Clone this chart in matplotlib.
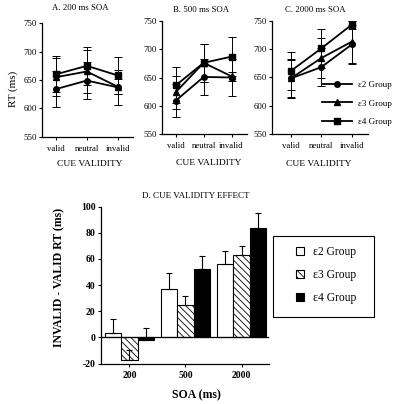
import matplotlib
matplotlib.use("Agg")
import matplotlib.pyplot as plt
import numpy as np
from matplotlib.patches import Patch, Rectangle
from matplotlib.lines import Line2D

plt.rcParams['font.family'] = ['Liberation Serif', 'DejaVu Serif']
plt.rcParams['axes.unicode_minus'] = False
plt.rcParams['hatch.linewidth'] = 0.6

conditions = ['valid', 'neutral', 'invalid']
groups = ['ε2 Group', 'ε3 Group', 'ε4 Group']
markers = ['o', '^', 's']

# Panel A: 200 ms SOA
rt_200 = {'ε2 Group': [634, 649, 637], 'ε3 Group': [655, 665, 638], 'ε4 Group': [660, 675, 658]}
se_200 = {'ε2 Group': [32, 33, 31], 'ε3 Group': [33, 38, 13], 'ε4 Group': [32, 34, 32]}
# Panel B: 500 ms SOA
rt_500 = {'ε2 Group': [609, 651, 650], 'ε3 Group': [624, 676, 652], 'ε4 Group': [636, 676, 687]}
se_500 = {'ε2 Group': [29, 32, 32], 'ε3 Group': [29, 34, 8], 'ε4 Group': [32, 34, 34]}
# Panel C: 2000 ms SOA
rt_2000 = {'ε2 Group': [648, 668, 708], 'ε3 Group': [648, 684, 713], 'ε4 Group': [661, 701, 743]}
se_2000 = {'ε2 Group': [33, 34, 35], 'ε3 Group': [35, 35, 37], 'ε4 Group': [33, 34, 7]}

# Panel D: cue validity effect
soa_labels = ['200', '500', '2000']
effect = {'ε2 Group': [3, 37, 56], 'ε3 Group': [-17, 25, 63], 'ε4 Group': [-2, 52, 84]}
effect_se = {'ε2 Group': [11, 12, 10], 'ε3 Group': [7, 7, 7], 'ε4 Group': [9, 10, 11]}

W, H = 400, 404
fig = plt.figure(figsize=(W / 100, H / 100), dpi=100)

def rect(l, r, t, b):
    return [l / W, 1 - b / H, (r - l) / W, (b - t) / H]

panels = [
    (rect(41.7, 133.3, 23.3, 136.7), (-0.46, 2.5), rt_200, se_200, 'A. 200 ms SOA', (80, 7.5), (89.5, 164)),
    (rect(162.3, 246.7, 21, 134), (-0.48, 2.54), rt_500, se_500, 'B. 500 ms SOA', (201, 10), (209, 163)),
    (rect(271.7, 368.3, 20.7, 134), (-0.62, 2.54), rt_2000, se_2000, 'C. 2000 ms SOA', (315, 9.5), (319, 164.3)),
]

x = np.arange(len(conditions))
axes_top = []
for r, xl, data, se, title, tpos, lpos in panels:
    ax = fig.add_axes(r)
    for g, m in zip(groups, markers):
        ax.errorbar(x, data[g], yerr=se[g], color='black', lw=1.3, marker=m,
                    markersize=4, elinewidth=0.7, capsize=2.8, capthick=0.7, label=g)
    ax.set_xlim(*xl)
    ax.set_ylim(550, 750)
    ax.set_yticks([550, 600, 650, 700, 750])
    ax.set_xticks(x)
    ax.set_xticklabels(conditions)
    for s in ['top', 'right']:
        ax.spines[s].set_visible(False)
    for s in ['left', 'bottom']:
        ax.spines[s].set_linewidth(0.9)
    ax.tick_params(axis='both', labelsize=6.3, length=2.2, width=0.8, pad=1.5)
    ax.tick_params(axis='x', pad=3.5)
    fig.text(tpos[0] / W, 1 - tpos[1] / H, title, ha='center', va='center', fontsize=6.3)
    fig.text(lpos[0] / W, 1 - lpos[1] / H, 'CUE VALIDITY', ha='center', va='center', fontsize=6.8)
    axes_top.append(ax)

fig.text(13.3 / W, 1 - 89.3 / H, 'RT (ms)', rotation=90, ha='center', va='center', fontsize=8)

# legend for line panels (inside panel C)
handles = [Line2D([0], [0], color='black', lw=1.3, marker=m, markersize=4) for m in markers]
fig.legend(handles, groups, loc='center left', bbox_to_anchor=(322 / W, 1 - 103.5 / H),
           frameon=False, fontsize=6.5, handlelength=3.3, handletextpad=0.7,
           labelspacing=1.15, borderaxespad=0, borderpad=0)

# Panel D
axd = fig.add_axes(rect(100.7, 269, 206.7, 363.5))
xd = np.arange(len(soa_labels))
bw = 0.293
faces = ['white', 'white', 'black']
hatches = [None, '\\' * 5, None]
for i, g in enumerate(groups):
    pos = xd + (i - 1) * bw
    vals = effect[g]
    axd.bar(pos, vals, width=bw, color=faces[i], edgecolor='black', linewidth=0.8,
            hatch=hatches[i], label=g, zorder=2)
    axd.errorbar(pos, vals, yerr=[np.zeros(len(vals)), effect_se[g]], fmt='none',
                 ecolor='black', elinewidth=0.8, capsize=2.5, capthick=0.8, zorder=3)
axd.axhline(0, color='black', lw=0.9, zorder=4)
axd.set_xlim(-0.513, 2.49)
axd.set_ylim(-20, 100)
axd.set_yticks([-20, 0, 20, 40, 60, 80, 100])
axd.set_xticks(xd)
axd.set_xticklabels(soa_labels)
for s in ['top', 'right']:
    axd.spines[s].set_visible(False)
for s in ['left', 'bottom']:
    axd.spines[s].set_linewidth(0.9)
axd.tick_params(axis='both', labelsize=7, length=2.2, width=0.8, pad=1.5)
axd.tick_params(axis='x', pad=3)
for lab in axd.get_xticklabels() + axd.get_yticklabels():
    lab.set_fontweight('bold')

fig.text(195.5 / W, 1 - 195.7 / H, 'D. CUE VALIDITY EFFECT', ha='center', va='center', fontsize=6.5)
fig.text(59 / W, 1 - 277 / H, 'INVALID - VALID RT (ms)', rotation=90, ha='center', va='center',
         fontsize=8.5, fontweight='bold')
fig.text(196 / W, 1 - 395 / H, 'SOA (ms)', ha='center', va='center', fontsize=8.5, fontweight='bold')

# legend box for panel D
fig.patches.append(Rectangle((273.3 / W, 1 - 317 / H), (374 - 273.3) / W, (317 - 235.7) / H,
                             transform=fig.transFigure, facecolor='white', edgecolor='black',
                             linewidth=0.8, zorder=5))
leg_handles = [Patch(facecolor=faces[i], edgecolor='black', hatch=hatches[i], linewidth=0.8) for i in range(3)]
leg = fig.legend(leg_handles, groups, loc='center left', bbox_to_anchor=(295.5 / W, 1 - 274.8 / H),
                 fontsize=8.3, frameon=False, borderaxespad=0, borderpad=0,
                 handlelength=0.75, handleheight=0.75, handletextpad=0.75, labelspacing=0.95)
leg.set_zorder(6)

fig.savefig('out.png', dpi=100)
